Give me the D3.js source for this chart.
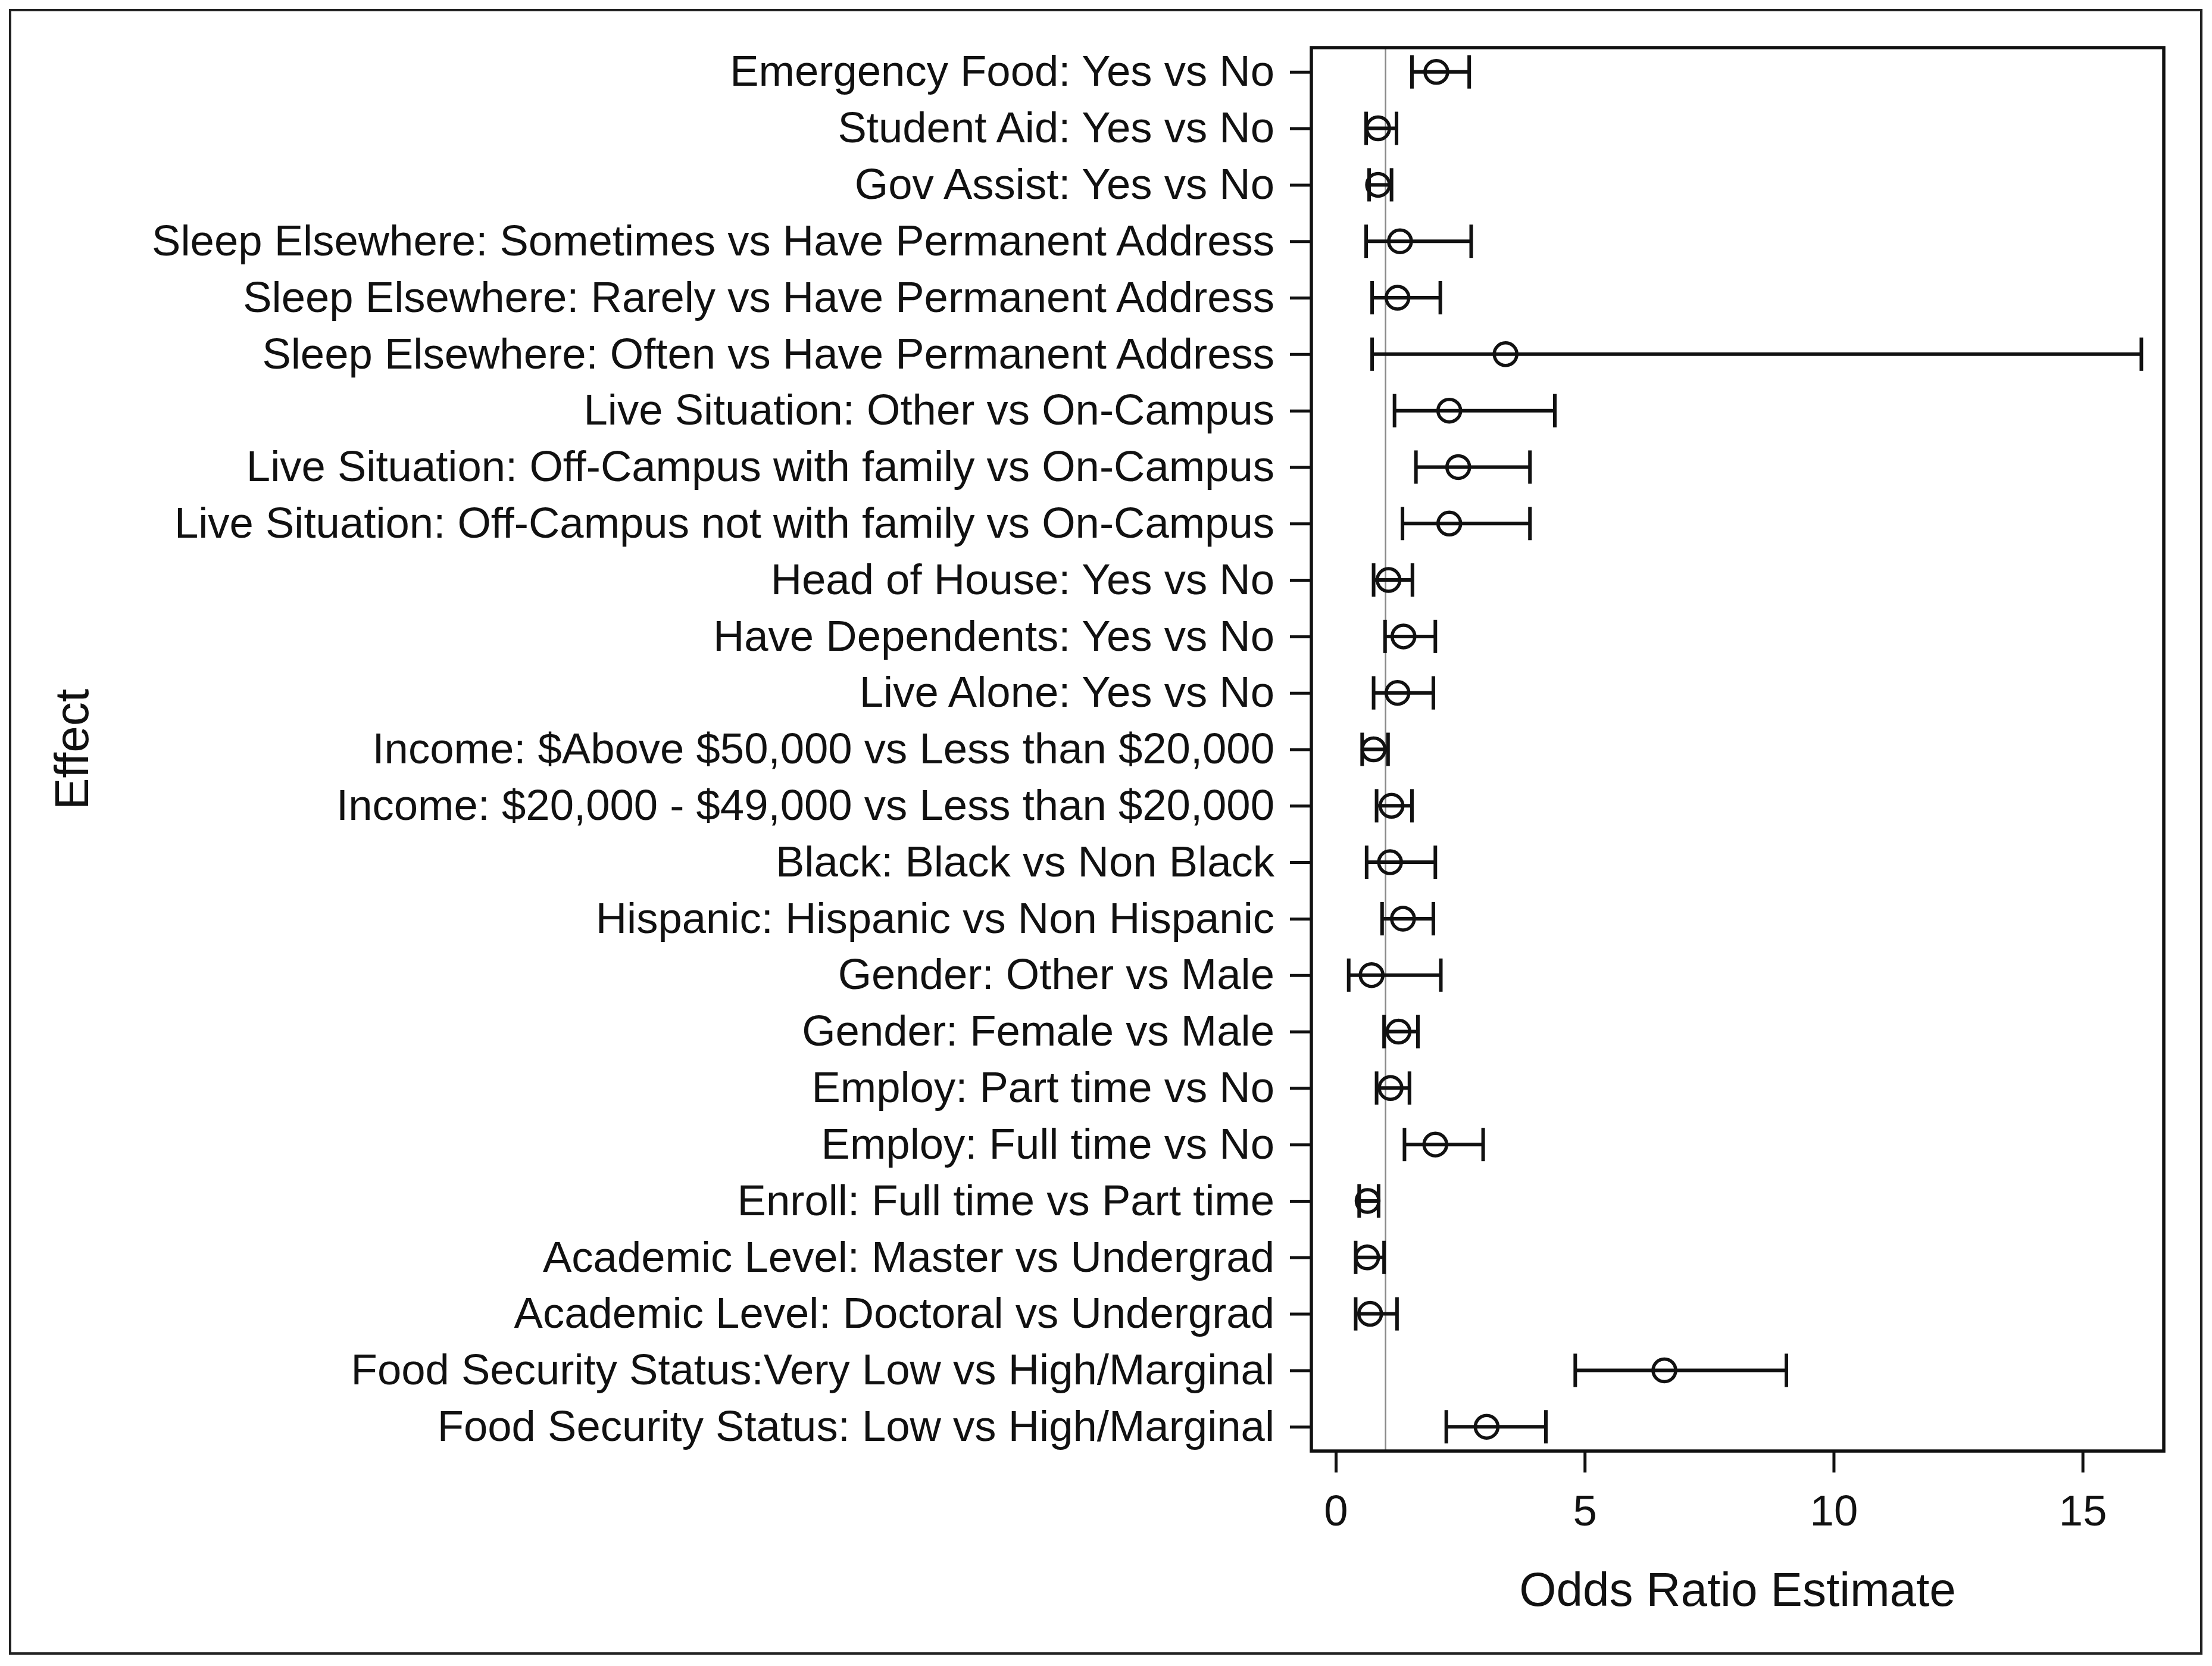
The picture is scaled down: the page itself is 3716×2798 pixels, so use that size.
<!DOCTYPE html>
<html>
<head>
<meta charset="utf-8">
<script src="https://cdn.jsdelivr.net/npm/d3@7"></script>
<style>
  body { margin: 0; background: #fff; }
  svg { display: block; font-family: "Liberation Sans", Arial, sans-serif; }
</style>
</head>
<body>
<div id="plot"></div>
<script>
// Effects, top to bottom
const effects = [
  "Emergency Food: Yes vs No",
  "Student Aid: Yes vs No",
  "Gov Assist: Yes vs No",
  "Sleep Elsewhere: Sometimes vs Have Permanent Address",
  "Sleep Elsewhere: Rarely vs Have Permanent Address",
  "Sleep Elsewhere: Often vs Have Permanent Address",
  "Live Situation: Other vs On-Campus",
  "Live Situation: Off-Campus with family vs On-Campus",
  "Live Situation: Off-Campus not with family vs On-Campus",
  "Head of House: Yes vs No",
  "Have Dependents: Yes vs No",
  "Live Alone: Yes vs No",
  "Income: $Above $50,000 vs Less than $20,000",
  "Income: $20,000 - $49,000 vs Less than $20,000",
  "Black: Black vs Non Black",
  "Hispanic: Hispanic vs Non Hispanic",
  "Gender: Other vs Male",
  "Gender: Female vs Male",
  "Employ: Part time vs No",
  "Employ: Full time vs No",
  "Enroll: Full time vs Part time",
  "Academic Level: Master vs Undergrad",
  "Academic Level: Doctoral vs Undergrad",
  "Food Security Status:Very Low vs High/Marginal",
  "Food Security Status: Low vs High/Marginal"
];

// odds ratio estimates and 95% limits
const estimate = [2.02, 0.85, 0.85, 1.29, 1.24, 3.41, 2.28, 2.46, 2.28, 1.06, 1.36, 1.24, 0.76,
  1.12, 1.09, 1.35, 0.72, 1.26, 1.10, 2.00, 0.64, 0.63, 0.69, 6.60, 3.03];
const lower = [1.53, 0.61, 0.67, 0.61, 0.73, 0.73, 1.18, 1.61, 1.34, 0.76, 0.99, 0.76, 0.53,
  0.82, 0.62, 0.93, 0.26, 0.97, 0.82, 1.38, 0.47, 0.40, 0.40, 4.81, 2.22];
const upper = [2.68, 1.22, 1.12, 2.72, 2.10, 16.18, 4.40, 3.90, 3.90, 1.54, 2.00, 1.96, 1.05,
  1.53, 2.00, 1.96, 2.11, 1.65, 1.48, 2.96, 0.86, 0.97, 1.23, 9.05, 4.22];

const xTicks = [0, 5, 10, 15];
const refValue = 1;

const width = 3716, height = 2798;
const margin = {top: 80, right: 81, bottom: 361, left: 2203};

const svg = d3.select("#plot")
  .append("svg")
  .attr("width", width)
  .attr("height", height);

// outer frame
svg.append("rect")
  .attr("x", 17).attr("y", 17)
  .attr("width", 3681).attr("height", 2760)
  .attr("fill", "none")
  .attr("stroke", "#222")
  .attr("stroke-width", 4);

const x = d3.scaleLinear()
  .domain([-0.49, 16.63])
  .range([margin.left, width - margin.right]);

const y = d3.scalePoint()
  .domain(effects)
  .range([margin.top, height - margin.bottom])
  .padding(0.43);

const rows = effects.map((e, i) => ({effect: e, est: estimate[i], lo: lower[i], hi: upper[i]}));

// reference line at OR = 1
svg.append("line")
  .attr("x1", x(refValue)).attr("x2", x(refValue))
  .attr("y1", margin.top).attr("y2", height - margin.bottom)
  .attr("stroke", "#8a8a8a")
  .attr("stroke-width", 2.5);

const g = svg.append("g");

// whiskers
g.selectAll(".whisker")
  .data(rows)
  .join("line")
    .attr("class", "whisker")
    .attr("x1", d => x(d.lo)).attr("x2", d => x(d.hi))
    .attr("y1", d => y(d.effect)).attr("y2", d => y(d.effect))
    .attr("stroke", "#111")
    .attr("stroke-width", 6);

// caps
const capHalf = 28;
["lo", "hi"].forEach(k => {
  g.selectAll(".cap-" + k)
    .data(rows)
    .join("line")
      .attr("class", "cap-" + k)
      .attr("x1", d => x(d[k])).attr("x2", d => x(d[k]))
      .attr("y1", d => y(d.effect) - capHalf).attr("y2", d => y(d.effect) + capHalf)
      .attr("stroke", "#111")
      .attr("stroke-width", 6);
});

// point estimates
g.selectAll(".pt")
  .data(rows)
  .join("circle")
    .attr("class", "pt")
    .attr("cx", d => x(d.est))
    .attr("cy", d => y(d.effect))
    .attr("r", 19)
    .attr("fill", "none")
    .attr("stroke", "#111")
    .attr("stroke-width", 5.5);

// plot frame
svg.append("rect")
  .attr("x", margin.left).attr("y", margin.top)
  .attr("width", width - margin.right - margin.left)
  .attr("height", height - margin.bottom - margin.top)
  .attr("fill", "none")
  .attr("stroke", "#111")
  .attr("stroke-width", 5.5);

// axes
const yAxis = svg.append("g")
  .attr("transform", `translate(${margin.left - 2}, 0)`)
  .call(d3.axisLeft(y).tickSize(34).tickPadding(26));
const xAxis = svg.append("g")
  .attr("transform", `translate(0, ${height - margin.bottom + 2})`)
  .call(d3.axisBottom(x).tickValues(xTicks).tickSize(34).tickPadding(38));

[yAxis, xAxis].forEach(a => {
  a.select(".domain").remove();
  a.selectAll(".tick line").attr("stroke", "#111").attr("stroke-width", 5);
  a.selectAll(".tick text")
    .attr("fill", "#111")
    .style("font-size", "72.5px")
    .style("font-family", '"Liberation Sans", Arial, sans-serif');
});

// axis titles
svg.append("text")
  .attr("x", (margin.left + width - margin.right) / 2)
  .attr("y", 2697)
  .attr("text-anchor", "middle")
  .attr("fill", "#111")
  .style("font-size", "80px")
  .text("Odds Ratio Estimate");

svg.append("text")
  .attr("transform", `translate(148, ${(margin.top + height - margin.bottom) / 2}) rotate(-90)`)
  .attr("text-anchor", "middle")
  .attr("fill", "#111")
  .style("font-size", "80px")
  .text("Effect");
</script>
</body>
</html>
